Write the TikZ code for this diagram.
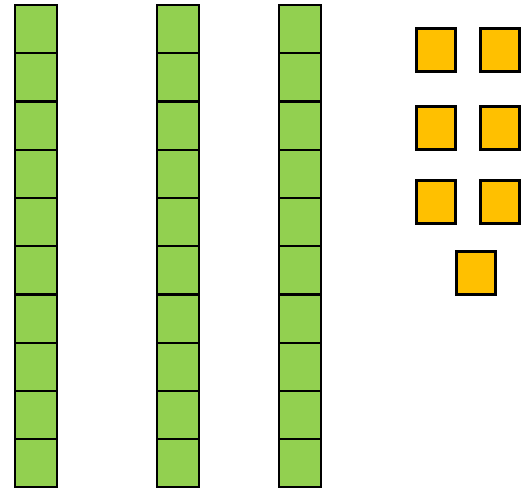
\documentclass[tikz,border=0pt]{standalone}
\definecolor{cellgreen}{HTML}{92D050}
\definecolor{cellyellow}{HTML}{FFC000}
\begin{document}
\begin{tikzpicture}[x=1pt,y=-1pt,
  greencell/.style={draw=black,fill=cellgreen,line width=2pt,inner sep=0pt,
    minimum width=42pt,minimum height=48.2pt,anchor=center},
  yellowcell/.style={draw=black,fill=cellyellow,line width=3pt,inner sep=0pt,
    minimum width=39pt,minimum height=43pt,anchor=center}]
\useasboundingbox (0,0) rectangle (530,494);
\foreach \c/\x in {1/36,2/178,3/300}{
  \foreach \i in {0,...,9}{
    \node[greencell] (g\c-\i) at (\x,{5+48.25*(\i+0.5)}) {};
  }
}
\node[yellowcell] (y1) at (436,50.3) {};
\node[yellowcell] (y2) at (500,50.3) {};
\node[yellowcell] (y3) at (436,128.3) {};
\node[yellowcell] (y4) at (500,128.3) {};
\node[yellowcell] (y5) at (436,202.3) {};
\node[yellowcell] (y6) at (500,202.3) {};
\node[yellowcell] (y7) at (476.3,272.7) {};
\end{tikzpicture}
\end{document}
